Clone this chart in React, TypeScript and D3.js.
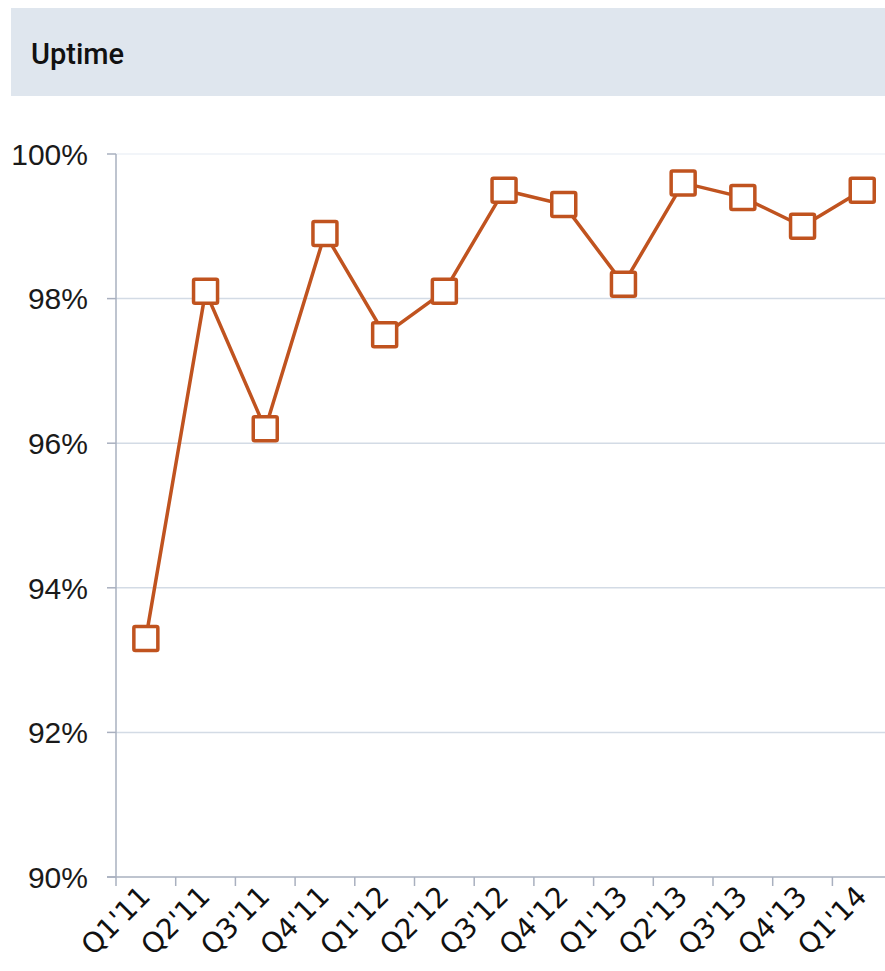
import React from "react";
import * as d3 from "d3";

const categories = ["Q1'11", "Q2'11", "Q3'11", "Q4'11", "Q1'12", "Q2'12", "Q3'12", "Q4'12", "Q1'13", "Q2'13", "Q3'13", "Q4'13", "Q1'14"];
const uptime = [93.3, 98.1, 96.2, 98.9, 97.5, 98.1, 99.5, 99.3, 98.2, 99.6, 99.4, 99.0, 99.5];
const yTicks = [90, 92, 94, 96, 98, 100];

export default function App() {
  const W = 885, H = 971;
  const left = 116, top = 154, bottom = 877;
  const step = 59.7;
  const x = d3.scaleBand<string>().domain(categories).range([left, left + step * categories.length]);
  const y = d3.scaleLinear().domain([90, 100]).range([bottom, top]);
  const line = d3.line<number>().x((_, i) => (x(categories[i]) as number) + x.bandwidth() / 2).y((d) => y(d));
  const ms = 24;
  const orange = "#c0531f";
  return (
    <svg width={W} height={H} style={{ position: "absolute", left: 0, top: 0 }}>
      <rect x={11} y={8} width={W - 11} height={88} fill="#dfe6ee" />
      <text x={31} y={64} fontFamily="Roboto, Liberation Sans, sans-serif" fontWeight={500} fontSize={29} fill="#111">Uptime</text>
      {yTicks.map((t) => (
        <g key={t}>
          {t !== 90 && (
            <line x1={left} x2={W} y1={y(t)} y2={y(t)} stroke={t === 100 ? "#eef2f7" : "#d3dbe5"} strokeWidth={1.5} />
          )}
          <line x1={107} x2={left} y1={y(t)} y2={y(t)} stroke="#a9b0bf" strokeWidth={1.5} />
          <text x={88} y={y(t)} dy="0.36em" textAnchor="end" fontFamily="Liberation Sans, Arial, sans-serif" fontSize={30} fill="#1a1a1a">{t}%</text>
        </g>
      ))}
      <line x1={left} x2={left} y1={top} y2={bottom} stroke="#a9b0bf" strokeWidth={1.5} />
      <line x1={107} x2={W} y1={bottom} y2={bottom} stroke="#a9b0bf" strokeWidth={1.5} />
      {categories.map((c, i) => (
        <line key={"t" + i} x1={(x(c) as number)} x2={(x(c) as number)} y1={bottom} y2={bottom + 9} stroke="#a9b0bf" strokeWidth={1.5} />
      ))}
      {categories.map((c) => {
        const cx = (x(c) as number) + x.bandwidth() / 2 + 6;
        const cy = 898;
        return (
          <text key={c} x={cx} y={cy} transform={`rotate(-45 ${cx} ${cy})`} textAnchor="end" fontFamily="DejaVu Sans, sans-serif" fontSize={28} fill="#111">{c}</text>
        );
      })}
      <path d={line(uptime) || ""} fill="none" stroke={orange} strokeWidth={3.5} />
      {uptime.map((v, i) => {
        const cx = (x(categories[i]) as number) + x.bandwidth() / 2;
        return <rect key={i} x={cx - ms / 2} y={y(v) - ms / 2} width={ms} height={ms} rx={1.5} fill="#fff" stroke={orange} strokeWidth={3.5} />;
      })}
    </svg>
  );
}
